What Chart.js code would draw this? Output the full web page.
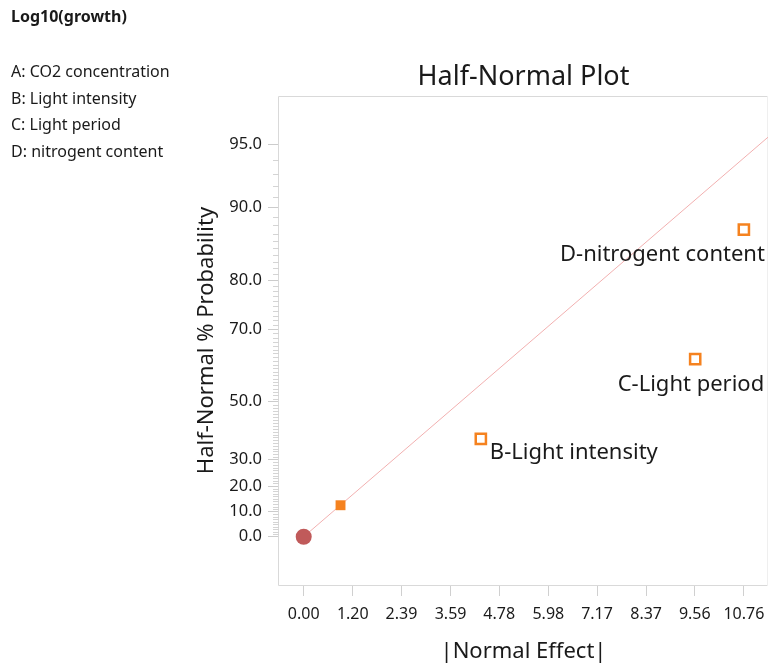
<!DOCTYPE html>
<html>
<head>
<meta charset="utf-8">
<script src="https://cdn.jsdelivr.net/npm/chart.js@4.4.1/dist/chart.umd.min.js"></script>
<style>
    html, body { margin: 0; padding: 0; background: #fff; overflow: hidden; }
    #wrap { position: relative; width: 769px; height: 666px; }
    #halfNormalChart { position: absolute; left: 0; top: 0; }
    .side-text { position: absolute; left: 11px; font-family: 'Noto Sans', sans-serif; font-size: 16px; color: #1a1a1a; line-height: 26.7px; white-space: nowrap; }
    #responseName { top: 3px; font-weight: bold; line-height: 27px; }
    #factorList { top: 58px; }
</style>
</head>
<body>
<div id="wrap">
    <canvas id="halfNormalChart" width="769" height="666"></canvas>
    <div id="responseName" class="side-text">Log10(growth)</div>
    <div id="factorList" class="side-text"></div>
</div>
<script>
// factors of the design
const factorCodes = ['A', 'B', 'C', 'D'];
const factorNames = ['CO2 concentration', 'Light intensity', 'Light period', 'nitrogent content'];

// |normal effect| and half-normal % probability for each factor
const absEffects = [0.90, 4.33, 9.57, 10.76];
const halfNormalPct = [12.5, 37.5, 62.5, 87.5];
const labeledFactors = ['B', 'C', 'D'];

// origin point
const originEffect = [0];
const originPct = [0];

// reference line through the origin
const lineEffect = [0, 11.35];
const linePct = [0, 95.4];

// axis ticks
const xTickValues = [0, 1.20, 2.39, 3.59, 4.78, 5.98, 7.17, 8.37, 9.56, 10.76];
const yTickPct = [0, 10, 20, 30, 50, 70, 80, 90, 95];
const yMinorPct = [];
for (let p = 1; p <= 94; p++) {
    if (yTickPct.indexOf(p) === -1) yMinorPct.push(p);
}

const textColor = '#1a1a1a';
const fontFamily = "'Noto Sans', sans-serif";

// inverse normal cdf (Acklam)
function invNorm(p) {
    const a = [-3.969683028665376e+01, 2.209460984245205e+02, -2.759285104469687e+02, 1.383577518672690e+02, -3.066479806614716e+01, 2.506628277459239e+00];
    const b = [-5.447609879822406e+01, 1.615858368580409e+02, -1.556989798598866e+02, 6.680131188771972e+01, -1.328068155288572e+01];
    const c = [-7.784894002430293e-03, -3.223964580411365e-01, -2.400758277161838e+00, -2.549671039833060e+00, 4.374664141464968e+00, 2.938163982698783e+00];
    const d = [7.784695709041462e-03, 3.224671290700398e-01, 2.445134137142996e+00, 3.754408661907416e+00];
    const pLow = 0.02425, pHigh = 1 - pLow;
    let q, r;
    if (p < pLow) {
        q = Math.sqrt(-2 * Math.log(p));
        return (((((c[0] * q + c[1]) * q + c[2]) * q + c[3]) * q + c[4]) * q + c[5]) / ((((d[0] * q + d[1]) * q + d[2]) * q + d[3]) * q + 1);
    }
    if (p <= pHigh) {
        q = p - 0.5;
        r = q * q;
        return (((((a[0] * r + a[1]) * r + a[2]) * r + a[3]) * r + a[4]) * r + a[5]) * q / (((((b[0] * r + b[1]) * r + b[2]) * r + b[3]) * r + b[4]) * r + 1);
    }
    q = Math.sqrt(-2 * Math.log(1 - p));
    return -(((((c[0] * q + c[1]) * q + c[2]) * q + c[3]) * q + c[4]) * q + c[5]) / ((((d[0] * q + d[1]) * q + d[2]) * q + d[3]) * q + 1);
}

// half-normal probability scale: percent -> quantile
function halfNormalZ(pct) {
    return invNorm((1 + pct / 100) / 2);
}

document.getElementById('factorList').innerHTML = factorCodes
    .map((code, i) => code + ': ' + factorNames[i])
    .join('<br>');

const labelStyle = {
    B: { align: 'left', dx: 9, dy: 20 },
    C: { align: 'right', dx: 69, dy: 31.5 },
    D: { align: 'right', dx: 21, dy: 31.7 }
};

const framePlugin = {
    id: 'frame',
    beforeDatasetsDraw(chart) {
        const { ctx, chartArea } = chart;
        const yScale = chart.scales.y;
        const l = chartArea.left - 0.5, t = chartArea.top + 0.5;
        const r = chartArea.right - 0.5, b = chartArea.bottom + 0.5;
        ctx.save();
        ctx.lineWidth = 1;
        ctx.strokeStyle = '#d9d9d9';
        ctx.beginPath();
        ctx.moveTo(r, t);
        ctx.lineTo(l, t);
        ctx.lineTo(l, b);
        ctx.lineTo(r, b);
        ctx.stroke();
        ctx.strokeStyle = '#efefef';
        ctx.beginPath();
        ctx.moveTo(r, t);
        ctx.lineTo(r, b);
        ctx.stroke();
        // minor ticks on the probability axis
        ctx.strokeStyle = '#d4d4d4';
        ctx.beginPath();
        yMinorPct.forEach(p => {
            const y = Math.round(yScale.getPixelForValue(halfNormalZ(p))) + 0.5;
            ctx.moveTo(chartArea.left - 6, y);
            ctx.lineTo(chartArea.left, y);
        });
        ctx.stroke();
        ctx.restore();
    }
};

const pointLabelPlugin = {
    id: 'pointLabels',
    afterDatasetsDraw(chart) {
        const { ctx } = chart;
        const meta = chart.getDatasetMeta(1);
        ctx.save();
        ctx.font = '22px ' + fontFamily;
        ctx.fillStyle = textColor;
        ctx.textBaseline = 'alphabetic';
        factorCodes.forEach((code, i) => {
            if (labeledFactors.indexOf(code) === -1) return;
            const st = labelStyle[code];
            const pt = meta.data[i];
            ctx.textAlign = st.align;
            ctx.fillText(code + '-' + factorNames[i], pt.x + st.dx, pt.y + st.dy);
        });
        ctx.restore();
    }
};

const orange = '#f5821f';

new Chart(document.getElementById('halfNormalChart'), {
    type: 'scatter',
    data: {
        datasets: [{
            label: 'origin',
            data: originEffect.map((x, i) => ({ x: x, y: halfNormalZ(originPct[i]) })),
            pointStyle: 'circle',
            pointRadius: 8,
            pointBackgroundColor: '#c05a5a',
            pointBorderWidth: 0,
            order: 1
        }, {
            label: 'effects',
            data: absEffects.map((x, i) => ({ x: x, y: halfNormalZ(halfNormalPct[i]) })),
            pointStyle: 'rect',
            pointRadius: [7, 7.2, 7.2, 7.2],
            pointBackgroundColor: [orange, '#ffffff', '#ffffff', '#ffffff'],
            pointBorderColor: orange,
            pointBorderWidth: [0, 2.5, 2.5, 2.5],
            order: 2
        }, {
            label: 'reference line',
            type: 'line',
            data: lineEffect.map((x, i) => ({ x: x, y: halfNormalZ(linePct[i]) })),
            borderColor: '#f2b0b0',
            borderWidth: 1,
            pointRadius: 0,
            fill: false,
            order: 3
        }]
    },
    options: {
        responsive: false,
        animation: false,
        devicePixelRatio: 1,
        layout: { autoPadding: false, padding: { left: 0, top: 0, right: 1, bottom: 0 } },
        plugins: {
            legend: { display: false },
            tooltip: { enabled: false },
            title: {
                display: true,
                text: 'Half-Normal Plot',
                fullSize: false,
                color: textColor,
                font: { family: fontFamily, size: 27, weight: 'normal' },
                padding: { top: 61, bottom: 2.6 }
            }
        },
        scales: {
            x: {
                type: 'linear',
                min: -0.604,
                max: 11.35,
                afterFit(scale) {
                    scale.height = 81;
                    scale.paddingLeft = 0;
                    scale.paddingRight = 0;
                },
                afterBuildTicks(scale) {
                    scale.ticks = xTickValues.map(v => ({ value: v }));
                },
                border: { display: false },
                grid: { drawOnChartArea: false, drawTicks: true, tickLength: 11, tickColor: '#d0d0d0' },
                ticks: {
                    color: textColor,
                    font: { family: fontFamily, size: 16 },
                    padding: 8.9,
                    maxRotation: 0,
                    autoSkip: false,
                    callback: (value, index) => xTickValues[index].toFixed(2)
                },
                title: {
                    display: true,
                    text: '|Normal Effect|',
                    color: textColor,
                    font: { family: fontFamily, size: 22 },
                    padding: { top: 0, bottom: 1.3 }
                }
            },
            y: {
                type: 'linear',
                min: -0.241,
                max: 2.201,
                afterFit(scale) {
                    scale.width = 279;
                    scale.paddingTop = 0;
                    scale.paddingBottom = 0;
                },
                afterBuildTicks(scale) {
                    scale.ticks = yTickPct.map(p => ({ value: halfNormalZ(p) }));
                },
                border: { display: false },
                grid: { drawOnChartArea: false, drawTicks: true, tickLength: 11, tickColor: '#cccccc' },
                ticks: {
                    color: textColor,
                    font: { family: fontFamily, size: 16.5 },
                    padding: 6,
                    autoSkip: false,
                    callback: (value, index) => yTickPct[index].toFixed(1)
                },
                title: {
                    display: true,
                    text: 'Half-Normal % Probability',
                    color: textColor,
                    font: { family: fontFamily, size: 22 },
                    padding: { top: 193.3, bottom: 0 }
                }
            }
        }
    },
    plugins: [framePlugin, pointLabelPlugin]
});
</script>
</body>
</html>
